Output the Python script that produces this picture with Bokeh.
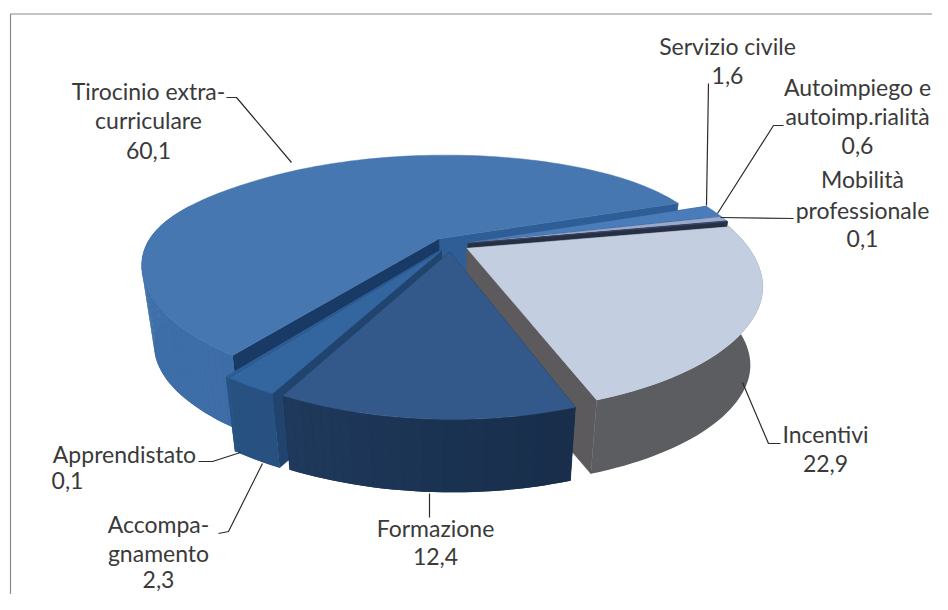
import math
from bokeh.plotting import figure
from bokeh.models import Range1d
from bokeh.core.properties import value as bv
from bokeh.embed import file_html
from bokeh.resources import INLINE

names = ["Servizio civile", "Autoimpiego e autoimp.rialità", "Mobilità professionale", "Incentivi",
         "Formazione", "Accompagnamento", "Apprendistato", "Tirocinio extra-curriculare"]
values = [1.6, 0.6, 0.1, 22.9, 12.4, 2.3, 0.1, 60.1]
top_colors = ["#4a7cba", "#98aacd", "#3b4a66", "#c3cee1", "#33598a", "#33659f", "#2f5f96", "#4777b1"]
wall_left = ["#3c6aa5", "#6d7fa5", "#2d3a52", "#5c5d61", "#223f64", "#27507f", "#27507f", "#3f6fa9"]
wall_right = ["#3c6aa5", "#6d7fa5", "#2d3a52", "#5c5d61", "#13263f", "#2a5788", "#2a5788", "#33619a"]
cut_start = ["#1f3f6e", "#3c4a68", "#262f44", "#5c5a5c", "#1c3454", "#21446e", "#2f5e96", "#1a3a66"]
cut_end = ["#1f3f6e", "#3c4a68", "#262f44", "#5c5a5c", "#1c3454", "#21446e", "#2f5e96", "#2f5e96"]

labels = [
    (["Servizio civile", "1,6"], [727, 727], [45, 75]),
    (["Autoimpiego e", "autoimp.rialità", "0,6"], [857, 857, 857], [86, 115, 145]),
    (["Mobilità", "professionale", "0,1"], [862, 862, 862], [178, 209, 238]),
    (["Incentivi", "22,9"], [825, 825], [433, 463]),
    (["Formazione", "12,4"], [435, 435], [527, 556]),
    (["Accompa-", "gnamento", "2,3"], [158, 158, 158], [523, 552, 579]),
    (["Apprendistato", "0,1"], [124, 67], [453, 480]),
    (["Tirocinio extra-", "curriculare", "60,1"], [148, 148, 148], [90, 119, 150]),
]
leaders = [
    ([708, 706], [83, 205]),
    ([783, 773, 717], [125, 125, 213]),
    ([793, 720], [218, 217]),
    ([780, 768, 742], [443, 443, 382]),
    ([429, 429], [493, 517]),
    ([218, 228, 262], [533, 531, 463]),
    ([198, 212, 240], [461, 461, 452]),
    ([226, 236, 291], [97, 97, 162]),
]

# projection of the tilted pie
CX, CY, A, B, P, PX, E = 450.0, 244.0, 112.0, 286.0, 0.30, 0.26, 0.065
SHEAR_FRONT, SHEAR_BACK, TILT = 0.057, 0.02, 0.04
SHRINK, DROP = 0.96, 80.0
START = 23.0


def smooth(t):
    t = max(0.0, min(1.0, t))
    return t * t * (3 - 2 * t)


def top(X, Y):
    shear = SHEAR_BACK + (SHEAR_FRONT - SHEAR_BACK) * smooth((0.6 - Y) / 1.2)
    x = CX + B * (X + shear * Y) / (1 + PX * Y)
    t = TILT * smooth((0.8 - Y) / 1.1)
    y = CY - A * Y / (1 + P * Y) + t * (x - CX)
    return x, y


def low(X, Y):
    x, y = top(X, Y)
    return CX + (x - CX) * SHRINK, CY + (y - CY) * SHRINK + DROP


def mix(c1, c2, t):
    a = [int(c1[i:i + 2], 16) for i in (1, 3, 5)]
    b = [int(c2[i:i + 2], 16) for i in (1, 3, 5)]
    return "#%02x%02x%02x" % tuple(round(u + (v - u) * t) for u, v in zip(a, b))


p = figure(width=932, height=594, x_range=Range1d(0, 932), y_range=Range1d(594, 0),
           output_backend="svg", toolbar_location=None, min_border=0, outline_line_color=None)
p.axis.visible = False
p.grid.visible = False

p.line([10, 10, 932], [594, 13.5, 13.5], line_color="#8a8a8a", line_width=1.2)

total = sum(values)
spans = []
a0 = START
for v in values:
    a1 = a0 - 360.0 * v / total
    spans.append((a0, a1))
    a0 = a1


def draw(i):
    a_s, a_e = spans[i]
    mid = math.radians((a_s + a_e) / 2)
    ox, oy = E * math.cos(mid), E * math.sin(mid)
    n = max(2, int((a_s - a_e) / 1.5))
    ang = [math.radians(a_s + (a_e - a_s) * k / n) for k in range(n + 1)]
    rim = [(ox + math.cos(t), oy + math.sin(t)) for t in ang]
    # radial cut faces
    for q, c in ((rim[-1], cut_end[i]), (rim[0], cut_start[i])):
        xs = [top(ox, oy)[0], top(*q)[0], low(*q)[0], low(ox, oy)[0]]
        ys = [top(ox, oy)[1], top(*q)[1], low(*q)[1], low(ox, oy)[1]]
        p.patch(xs, ys, fill_color=c, line_color=c, line_width=0.5)
    # outer wall, only the part that faces the viewer: a base shape, then shading bands
    front = [q for q, t in zip(rim, ang) if math.sin(t) < 0.3]
    if len(front) >= 2:
        bx = [top(*q)[0] for q in front] + [low(*q)[0] for q in reversed(front)]
        by = [top(*q)[1] for q in front] + [low(*q)[1] for q in reversed(front)]
        p.patch(bx, by, fill_color=mix(wall_left[i], wall_right[i], 0.5), line_color=None)
        if wall_left[i] != wall_right[i]:
            wx, wy, wc = [], [], []
            for q0, q1 in zip(front[:-1], front[1:]):
                wx.append([top(*q0)[0], top(*q1)[0], low(*q1)[0], low(*q0)[0]])
                wy.append([top(*q0)[1], top(*q1)[1], low(*q1)[1], low(*q0)[1]])
                sx = (top(*q0)[0] - 143) / 620.0
                wc.append(mix(wall_left[i], wall_right[i], min(1, max(0, sx))))
            p.patches(wx, wy, fill_color=wc, line_color=None)
    # top face
    tx = [top(ox, oy)[0]] + [top(*q)[0] for q in rim]
    ty = [top(ox, oy)[1]] + [top(*q)[1] for q in rim]
    p.patch(tx, ty, fill_color=top_colors[i], line_color=top_colors[i], line_width=0.5)


for i in [7, 0, 1, 2, 3, 6, 5, 4]:
    draw(i)

for xs, ys in leaders:
    p.line(xs, ys, line_color="#2b2b2b", line_width=1.2)

for txt, xs, ys in labels:
    p.text(xs, ys, text=txt, text_font=bv("Lato"), text_font_size="23px", text_color="#3a3a3a",
           text_align="center", text_baseline="middle")

open("out.html", "w").write(file_html(p, INLINE))
